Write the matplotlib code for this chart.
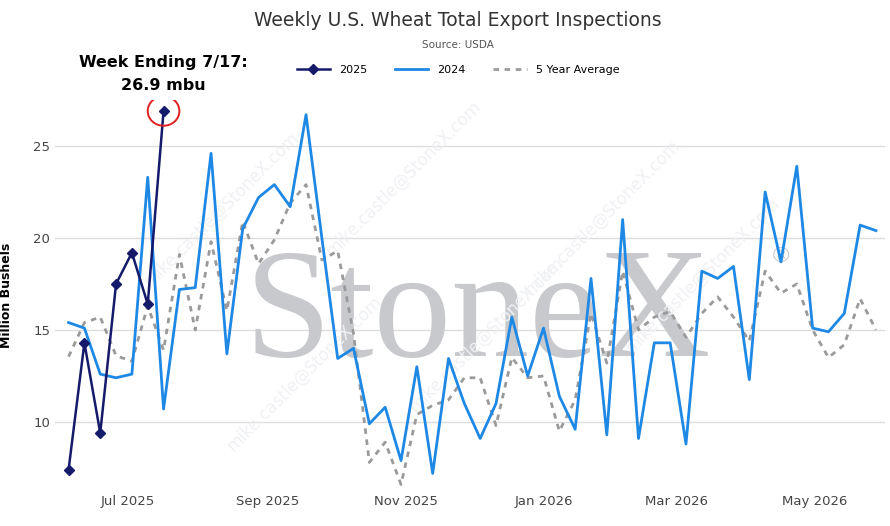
import matplotlib
matplotlib.use("Agg")
import matplotlib.pyplot as plt
import matplotlib.dates as mdates
from matplotlib.patches import Ellipse
import numpy as np
import datetime as dt

start = dt.date(2025, 6, 5)
s2025 = [7.4, 14.3, 9.4, 17.5, 19.2, 16.4, 26.9]
s2024 = [15.4, 15.1, 12.6, 12.4, 12.6, 23.3, 10.7, 17.2, 17.3, 24.6, 13.7, 20.5, 22.2, 22.9, 21.7, 26.7,
         20.0, 13.45, 14.0, 9.9, 10.8, 7.9, 13.0, 7.2, 13.45, 11.0, 9.1, 11.0, 15.7, 12.5, 15.1, 11.4, 9.6, 17.8, 9.3, 21.0,
         9.1, 14.3, 14.3, 8.8, 18.2, 17.8, 18.45, 12.3, 22.5, 18.7, 23.9, 15.1, 14.9, 15.9, 20.7, 20.4]
avg5 = [13.55, 15.4, 15.7, 13.6, 13.3, 16.3, 13.9, 19.1, 15.0, 19.8, 16.05, 20.9, 18.6, 19.9, 21.9, 22.9, 18.8, 19.3,
        14.8, 7.8, 8.9, 6.6, 10.4, 10.9, 11.2, 12.4, 12.4, 9.8, 13.5, 12.4, 12.5, 9.5, 11.2, 15.9, 13.2, 18.2,
        15.0, 15.7, 16.0, 14.6, 15.9, 16.8, 15.7, 14.4, 18.2, 17.0, 17.5, 15.0, 13.5, 14.2, 16.7, 15.0]
yticks = [10, 15, 20, 25]

d24 = [start + dt.timedelta(weeks=i) for i in range(len(s2024))]
d25 = d24[:len(s2025)]
dav = d24[:len(avg5)]

fig = plt.figure(figsize=(8.9, 5.26), dpi=100)
ax = fig.add_axes([55/890, 1-490/526, 830/890, 390/526])
for y in yticks:
    ax.axhline(y, color="#dddddd", lw=1, zorder=0)

ax.text(0.51, 0.44, "StoneX", transform=ax.transAxes, fontsize=112, family="Liberation Serif",
        color="#c8c9cc", ha="center", va="center", zorder=1)
ax.text(0.875, 0.6, "®", transform=ax.transAxes, fontsize=16, color="#c8c9cc", ha="center", va="center", zorder=1)
for (x, y) in [(0.2, 0.72), (0.42, 0.8), (0.66, 0.7), (0.3, 0.3), (0.52, 0.4), (0.78, 0.55)]:
    ax.text(x, y, "mike.castle@StoneX.com", transform=ax.transAxes, fontsize=12, color="#f0f1f4",
            rotation=45, ha="center", va="center", zorder=1)

ax.plot(dav, avg5, color="#9a9a9a", lw=2, ls=(0, (2, 2)), zorder=2, label="5 Year Average")
ax.plot(d24, s2024, color="#1e88e5", lw=2, zorder=3, label="2024")
ax.plot(d25, s2025, color="#151a6b", lw=1.8, marker="D", ms=5, zorder=4, label="2025")

ax.set_ylim(6.3, 27.5)
ax.set_xlim(start - dt.timedelta(days=6), d24[-1] + dt.timedelta(days=4))
ax.set_yticks(yticks)
ax.xaxis.set_major_locator(mdates.MonthLocator(bymonth=[1, 3, 5, 7, 9, 11]))
ax.xaxis.set_major_formatter(mdates.DateFormatter("%b %Y"))
ax.tick_params(length=0, labelsize=9.5, colors="#444444")
for s in ax.spines.values():
    s.set_visible(False)
ax.set_ylabel("Million Bushels", fontsize=9, fontweight="bold")
ax.yaxis.set_label_coords(-0.05, 0.5)

ax.add_patch(Ellipse((mdates.date2num(d25[-1]), s2025[-1]), 14, 1.6, fill=False, ec="#e02020", lw=1.4, zorder=5))
fig.text(163/890, 1-62/526, "Week Ending 7/17:", fontsize=11.5, fontweight="bold", ha="center", va="center")
fig.text(163/890, 1-86/526, "26.9 mbu", fontsize=11.5, fontweight="bold", ha="center", va="center")

fig.text(458/890, 1-20/526, "Weekly U.S. Wheat Total Export Inspections", fontsize=13.5, fontweight="medium",
         ha="center", va="center", color="#333333")
fig.text(458/890, 1-45/526, "Source: USDA", fontsize=7.5, ha="center", va="center", color="#555555")
h, l = ax.get_legend_handles_labels()
fig.legend([h[2], h[1], h[0]], [l[2], l[1], l[0]], loc="center", bbox_to_anchor=(458/890, 1-70/526), ncol=3,
           frameon=False, fontsize=8, handlelength=3, columnspacing=2.5)
fig.savefig("out.png", dpi=100)
